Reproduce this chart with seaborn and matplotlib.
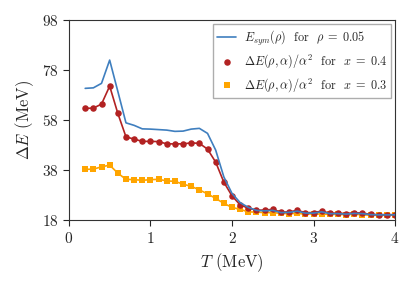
import numpy as np
import pandas as pd
import matplotlib
matplotlib.use('Agg')
import matplotlib.pyplot as plt
import seaborn as sns

# temperatures (MeV)
T = np.round(np.arange(0.2, 4.01, 0.1), 1)

esym = [70.7, 70.9, 72.7, 82.0, 69.5, 56.9, 55.9, 54.5, 54.4, 54.2, 54.0, 53.5, 53.6, 54.4, 54.7,
        52.7, 46.0, 35.3, 28.7, 25.0, 23.1, 21.9, 21.7, 21.9, 21.0, 21.1, 21.6, 20.8, 20.8, 21.3,
        20.6, 20.6, 20.4, 20.7, 20.6, 20.2, 20.1, 20.1, 20.1]
de_x04 = [62.7, 62.8, 64.4, 71.6, 60.7, 51.3, 50.4, 49.5, 49.5, 49.4, 48.5, 48.5, 48.5, 48.9, 48.7,
          46.4, 41.2, 33.2, 27.7, 24.1, 22.8, 22.0, 22.0, 22.3, 21.2, 21.3, 21.9, 21.0, 21.0, 21.6,
          20.8, 20.8, 20.6, 21.0, 20.8, 20.3, 20.2, 20.2, 20.2]
de_x03 = [38.3, 38.4, 39.3, 40.0, 36.8, 34.3, 34.2, 33.9, 34.2, 34.3, 33.7, 33.5, 32.4, 31.5, 30.1,
          28.5, 26.7, 24.7, 23.1, 22.3, 21.3, 21.2, 21.0, 21.0, 20.7, 20.6, 20.7, 20.4, 20.5, 20.4,
          20.3, 20.3, 20.2, 20.4, 20.1, 20.0, 19.9, 20.0, 20.0]

df = pd.DataFrame({'T': T, 'esym': esym, 'x04': de_x04, 'x03': de_x03})

sns.set_style('ticks')
plt.rcParams['font.family'] = 'serif'
plt.rcParams['font.serif'] = ['cmr10']
plt.rcParams['mathtext.fontset'] = 'cm'
plt.rcParams['axes.formatter.use_mathtext'] = True

fig = plt.figure(figsize=(4.15, 2.87), dpi=100)
ax = fig.add_axes([0.166, 0.233, 0.786, 0.697])

blue = '#3f7fbf'
red = '#b22222'
orange = '#ffa500'

sns.lineplot(data=df, x='T', y='esym', color=blue, lw=1.2, ax=ax,
             label=r'$E_{sym}(\rho)$  for  $\rho\;=\;0.05$', zorder=3)
sns.lineplot(data=df, x='T', y='x04', color=red, lw=1.2, ax=ax, zorder=2)
sns.scatterplot(data=df, x='T', y='x04', color=red, marker='o', s=22, linewidth=0, ax=ax,
                label=r'$\Delta E(\rho,\alpha)/\alpha^2$  for  $x\;=\;0.4$', zorder=2)
sns.lineplot(data=df, x='T', y='x03', color=orange, lw=1.2, ax=ax, zorder=1)
sns.scatterplot(data=df, x='T', y='x03', color=orange, marker='s', s=22, linewidth=0, ax=ax,
                label=r'$\Delta E(\rho,\alpha)/\alpha^2$  for  $x\;=\;0.3$', zorder=1)

ax.set_xlim(0, 4)
ax.set_ylim(18, 98)
ax.set_xticks([0, 1, 2, 3, 4])
ax.set_yticks([18, 38, 58, 78, 98])
ax.set_xlabel(r'$T$ (MeV)', fontsize=12)
ax.set_ylabel(r'$\Delta E$ (MeV)', fontsize=12)
ax.tick_params(labelsize=11, direction='out', length=4)
for s in ax.spines.values():
    s.set_color('#333333')

ax.legend(loc='upper right', fontsize=8.8, frameon=True, fancybox=False,
          edgecolor='#999999', handlelength=1.6, handletextpad=0.6,
          borderpad=0.35, labelspacing=0.45, borderaxespad=0.3)

fig.savefig('out.png', dpi=100)
